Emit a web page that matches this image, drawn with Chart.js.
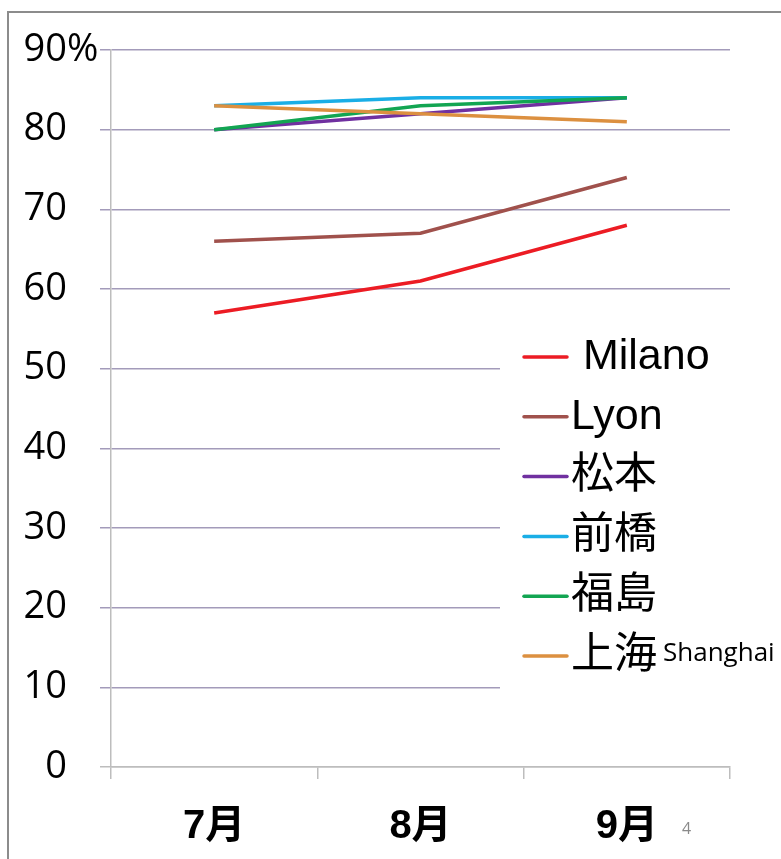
<!DOCTYPE html>
<html>
<head>
<meta charset="utf-8">
<script src="https://cdn.jsdelivr.net/npm/chart.js@4.4.1/dist/chart.umd.min.js"></script>
<style>
  html, body { margin: 0; padding: 0; background: #ffffff; }
  #wrap { position: relative; width: 781px; height: 859px; overflow: hidden; }
  #frame { position: absolute; left: 7px; top: 11px; width: 800px; height: 900px;
           border-left: 2px solid #8c8c8c; border-top: 2px solid #8c8c8c; }
  #myChart { position: absolute; left: 0; top: 0; }
</style>
</head>
<body>
<div id="wrap">
  <div id="frame"></div>
  <canvas id="myChart" width="781" height="859"></canvas>
</div>
<script>
const months = ['7月', '8月', '9月']
const cities = [' Milano', 'Lyon', '松本', '前橋', '福島', '上海']
const cityNotes = ['', '', '', '', '', 'Shanghai']
const cityColors = ['#ec1c24', '#a0514c', '#7030a0', '#1aaee6', '#12a552', '#dc9040']

const milano = [57, 61, 68]
const lyon = [66, 67, 74]
const matsumoto = [80, 82, 84]
const maebashi = [83, 84, 84]
const fukushima = [80, 83, 84]
const shanghai = [83, 82, 81]

const yMin = 0
const yMax = 90
const yStep = 10
const pageNo = '4'

const series = [milano, lyon, matsumoto, maebashi, fukushima, shanghai]

const labelFont = '"Open Sans", "Liberation Sans", sans-serif'
const legendFont = '43px "Liberation Sans", "Noto Sans CJK JP", sans-serif'

// legend sits inside the plot, on a white box, with the "%" after the top tick
const boxLegend = {
  id: 'boxLegend',
  afterDraw (chart) {
    const ctx = chart.ctx
    const yScale = chart.scales.y
    ctx.save()

    ctx.fillStyle = '#000000'
    ctx.font = '38px ' + labelFont
    ctx.textAlign = 'left'
    ctx.textBaseline = 'middle'
    ctx.fillText('%', 67, yScale.getPixelForValue(yMax))

    ctx.fillStyle = '#ffffff'
    ctx.fillRect(500, 322, 281, 378)

    chart.data.datasets.forEach((ds, i) => {
      const y = 357 + i * 59.8
      ctx.strokeStyle = ds.borderColor
      ctx.lineWidth = 3.5
      ctx.lineCap = 'round'
      ctx.beginPath()
      ctx.moveTo(524, y)
      ctx.lineTo(567, y)
      ctx.stroke()

      ctx.fillStyle = '#000000'
      ctx.font = legendFont
      ctx.textAlign = 'left'
      ctx.textBaseline = 'middle'
      ctx.fillText(ds.label, 571, y)
      if (cityNotes[i]) {
        const w = ctx.measureText(ds.label).width
        ctx.font = '26px ' + labelFont
        ctx.fillText(cityNotes[i], 571 + w + 6, y - 2)
      }
    })

    ctx.fillStyle = '#8a8a8a'
    ctx.font = '16px ' + labelFont
    ctx.fillText(pageNo, 682, 829)
    ctx.restore()
  }
}

const config = {
  type: 'line',
  data: {
    labels: months,
    datasets: series.map((values, i) => ({
      label: cities[i],
      data: values,
      borderColor: cityColors[i],
      backgroundColor: cityColors[i],
      borderWidth: 3.5,
      pointRadius: 0,
      tension: 0,
      order: series.length - i
    }))
  },
  options: {
    responsive: false,
    animation: false,
    layout: { padding: { top: 50, right: 51, left: 0, bottom: 0 } },
    plugins: {
      legend: { display: false },
      tooltip: { enabled: false }
    },
    scales: {
      x: {
        offset: true,
        afterFit (scale) { scale.height = 92 },
        grid: {
          offset: true,
          drawOnChartArea: false,
          color: '#bdbdbd',
          tickLength: 12,
          lineWidth: 1.5
        },
        border: { color: '#bdbdbd', width: 1.5 },
        ticks: {
          color: '#000000',
          padding: 24,
          font: { family: '"Liberation Sans", "Noto Sans CJK JP", sans-serif', size: 40, weight: 'bold' }
        }
      },
      y: {
        min: yMin,
        max: yMax,
        afterFit (scale) {
          scale.width = 111
          // the top label may overhang the plot edge
          scale.paddingTop = 0
          scale.paddingBottom = 0
        },
        grid: {
          color: (c) => (c.tick && c.tick.value === 0 ? '#bdbdbd' : '#a39bba'),
          tickLength: 11,
          lineWidth: 1.5
        },
        border: { color: '#bdbdbd', width: 1.5 },
        ticks: {
          stepSize: yStep,
          color: '#000000',
          padding: 33,
          font: { family: labelFont, size: 38 }
        }
      }
    }
  },
  plugins: [boxLegend]
}

var myChart = new Chart(document.getElementById('myChart'), config)
</script>
</body>
</html>
